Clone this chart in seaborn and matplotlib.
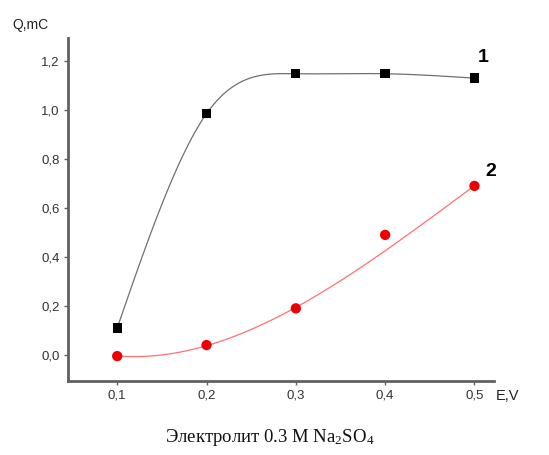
import numpy as np
import pandas as pd
import matplotlib
matplotlib.use("Agg")
import matplotlib.pyplot as plt
import seaborn as sns

E = [0.1, 0.2, 0.3, 0.4, 0.5]
Q1 = [0.11, 0.985, 1.148, 1.148, 1.13]
Q2 = [-0.005, 0.04, 0.19, 0.49, 0.69]
xticks = [0.1, 0.2, 0.3, 0.4, 0.5]
yticks = [0.0, 0.2, 0.4, 0.6, 0.8, 1.0, 1.2]

sns.set_theme(style="white")
plt.rcParams['font.family'] = ['Liberation Sans', 'DejaVu Sans']
plt.rcParams['mathtext.fontset'] = 'custom'
plt.rcParams['mathtext.rm'] = 'Liberation Serif'
plt.rcParams['mathtext.it'] = 'Liberation Serif:italic'


def natural_spline(x, y, xs):
    x = np.asarray(x, float); y = np.asarray(y, float)
    n = len(x)
    h = np.diff(x)
    A = np.zeros((n, n)); b = np.zeros(n)
    A[0, 0] = 1; A[-1, -1] = 1
    for i in range(1, n - 1):
        A[i, i - 1] = h[i - 1]; A[i, i] = 2 * (h[i - 1] + h[i]); A[i, i + 1] = h[i]
        b[i] = 3 * ((y[i + 1] - y[i]) / h[i] - (y[i] - y[i - 1]) / h[i - 1])
    c = np.linalg.solve(A, b)
    out = np.empty_like(xs)
    for k, xv in enumerate(xs):
        i = min(max(np.searchsorted(x, xv) - 1, 0), n - 2)
        dx = xv - x[i]
        bi = (y[i + 1] - y[i]) / h[i] - h[i] * (2 * c[i] + c[i + 1]) / 3
        di = (c[i + 1] - c[i]) / (3 * h[i])
        out[k] = y[i] + bi * dx + c[i] * dx ** 2 + di * dx ** 3
    return out

xs = np.linspace(E[0], E[-1], 200)
s1 = natural_spline(E, Q1, xs)
p2 = np.polyfit(E, Q2, 3, w=[6, 6, 6, 1.2, 6])
s2 = np.polyval(p2, xs)

fig = plt.figure(figsize=(5.49, 4.55), dpi=100)
ax = fig.add_axes([0.124, 0.163, 0.776, 0.7535])

sns.lineplot(x=xs, y=s1, ax=ax, color="#707070", lw=0.9, zorder=2)
sns.lineplot(x=xs, y=s2, ax=ax, color="#ff7070", lw=0.9, zorder=2)
sns.scatterplot(x=E, y=Q1, ax=ax, marker="s", color="black", s=45, edgecolor="none", zorder=3)
sns.scatterplot(x=E, y=Q2, ax=ax, marker="o", color="#ee0000", s=55, edgecolor="none", zorder=3)

ax.set_xlim(0.045, 0.522)
ax.set_ylim(-0.106, 1.294)
ax.set_xticks(xticks)
ax.set_yticks(yticks)
ax.set_xticklabels([f"{v:.1f}".replace(".", ",") for v in xticks])
ax.set_yticklabels([f"{v:.1f}".replace(".", ",") for v in yticks])
for side in ["top", "right"]:
    ax.spines[side].set_visible(False)
for side in ["left", "bottom"]:
    ax.spines[side].set_color("#606060")
    ax.spines[side].set_linewidth(2)
ax.tick_params(axis="both", which="both", direction="out", length=3, width=1,
               color="#606060", labelsize=9.5, labelcolor="#333333", pad=3,
               left=True, bottom=True)
ax.set_xlabel(""); ax.set_ylabel("")

fig.text(12 / 549, 1 - 25 / 455, "Q,mC", fontsize=10, color="#222222", va="center", ha="left")
fig.text(496 / 549, 1 - 396 / 455, "E,V", fontsize=10.5, color="#222222", va="center", ha="left")
fig.text(483 / 549, 1 - 57 / 455, "1", fontsize=14, fontweight="bold", color="black", va="center", ha="center")
fig.text(491 / 549, 1 - 172 / 455, "2", fontsize=14, fontweight="bold", color="black", va="center", ha="center")
fig.text(270 / 549, 1 - 437 / 455, "Электролит 0.3 M Na$_2$SO$_4$", fontsize=13.5,
         family=["Liberation Serif", "DejaVu Serif"], color="#111111", va="center", ha="center")

fig.savefig("out.png", dpi=100)
